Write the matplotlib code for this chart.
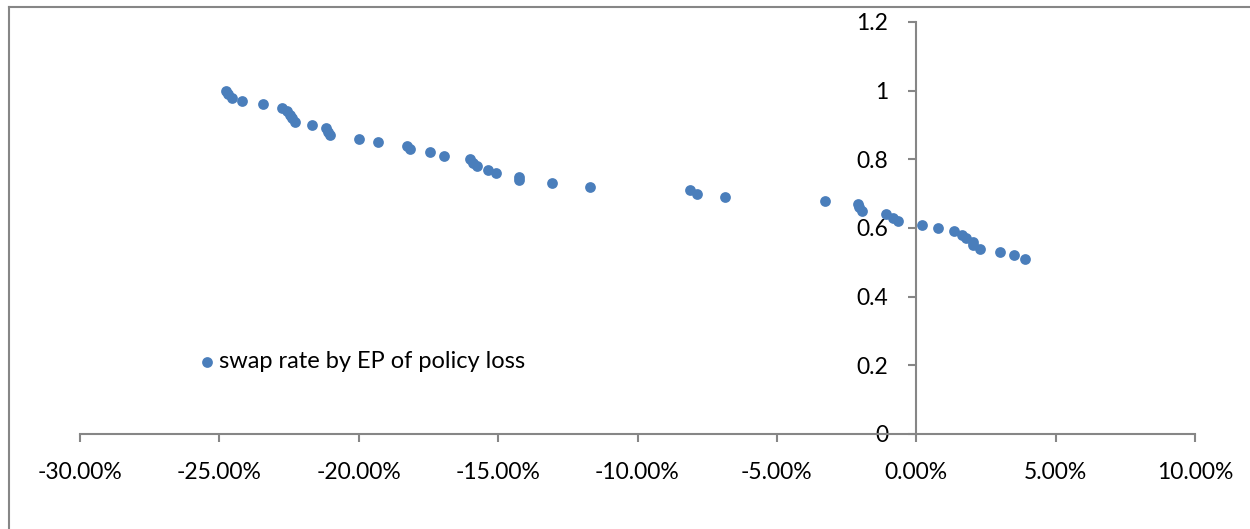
import matplotlib.pyplot as plt
from matplotlib.ticker import PercentFormatter, FixedLocator
from matplotlib.lines import Line2D

# EP of policy loss (fraction) and swap rate
ep_loss = [-0.2475, -0.2468, -0.2454, -0.2418, -0.2343, -0.2274, -0.2256, -0.2246,
           -0.2239, -0.2228, -0.2167, -0.2117, -0.2109, -0.2102, -0.1998, -0.1930,
           -0.1826, -0.1815, -0.1743, -0.1693, -0.1600, -0.1589, -0.1575, -0.1535,
           -0.1507, -0.1424, -0.1424, -0.1306, -0.1170, -0.0811, -0.0786, -0.0685,
           -0.0326, -0.0208, -0.0204, -0.0194, -0.0108, -0.0083, -0.0065, 0.0022,
           0.0079, 0.0136, 0.0165, 0.0179, 0.0204, 0.0204, 0.0230, 0.0301,
           0.0352, 0.0391]
swap_rate = [1.00, 0.99, 0.98, 0.97, 0.96, 0.95, 0.94, 0.93,
             0.92, 0.91, 0.90, 0.89, 0.88, 0.87, 0.86, 0.85,
             0.84, 0.83, 0.82, 0.81, 0.80, 0.79, 0.78, 0.77,
             0.76, 0.75, 0.74, 0.73, 0.72, 0.71, 0.70, 0.69,
             0.68, 0.67, 0.66, 0.65, 0.64, 0.63, 0.62, 0.61,
             0.60, 0.59, 0.58, 0.57, 0.56, 0.55, 0.54, 0.53,
             0.52, 0.51]
x_ticks = [-0.30, -0.25, -0.20, -0.15, -0.10, -0.05, 0.0, 0.05, 0.10]
y_ticks = [0, 0.2, 0.4, 0.6, 0.8, 1, 1.2]
y_labels = ["0", "0.2", "0.4", "0.6", "0.8", "1", "1.2"]

plt.rcParams['font.family'] = ['Lato', 'DejaVu Sans']
plt.rcParams['axes.unicode_minus'] = False
grey = '#868686'

fig = plt.figure(figsize=(12.5, 5.29), dpi=100)
ax = fig.add_axes([80 / 1250, 1 - 434 / 529, (1195 - 80) / 1250, (434 - 22) / 529])

ax.scatter(ep_loss, swap_rate, s=60, color='#4A7EBB', linewidths=0,
           label='swap rate by EP of policy loss', zorder=3)

ax.set_xlim(-0.30, 0.10)
ax.set_ylim(0, 1.2)

ax.spines['top'].set_visible(False)
ax.spines['right'].set_visible(False)
ax.spines['left'].set_position(('data', 0))
ax.spines['bottom'].set_position(('data', 0))
for s in ['left', 'bottom']:
    ax.spines[s].set_color(grey)
    ax.spines[s].set_linewidth(1.5)

ax.xaxis.set_major_locator(FixedLocator(x_ticks))
ax.xaxis.set_major_formatter(PercentFormatter(xmax=1, decimals=2))
ax.set_yticks(y_ticks)
ax.set_yticklabels(y_labels)
ax.tick_params(axis='both', direction='out', length=6, width=1.5, color=grey,
               labelsize=16.5, labelcolor='black')
ax.tick_params(axis='x', pad=14)
ax.tick_params(axis='y', pad=14)

ax.legend(loc='center left', bbox_to_anchor=(0.084, 0.175), frameon=False,
          fontsize=17, handletextpad=-0.5, markerscale=1.0, borderaxespad=0)

# chart area border (clipped by the image edge at right and bottom)
x0 = 8.5 / 1250
y0 = 1 - 6.5 / 529
fig.add_artist(Line2D([x0, x0], [-0.1, y0], color=grey, lw=1.5))
fig.add_artist(Line2D([x0, 1.1], [y0, y0], color=grey, lw=1.5))

fig.savefig('out.png', dpi=100)
